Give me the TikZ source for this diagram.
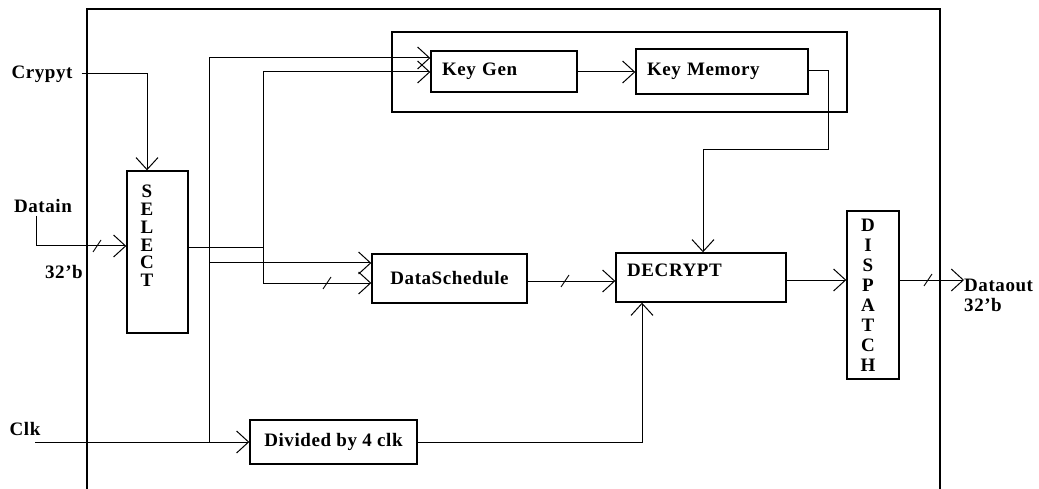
\documentclass[tikz,border=0pt]{standalone}
\usepackage{fontspec}
\setmainfont{Liberation Serif}
\usetikzlibrary{arrows.meta}
\begin{document}
\begin{tikzpicture}[x=1pt,y=-1pt,
  lbl/.style={font=\fontsize{19}{20}\selectfont\bfseries\addfontfeature{LetterSpace=3}, inner sep=0pt},
  blk/.style={draw, line width=1.4pt, inner sep=0pt, font=\fontsize{19}{20}\selectfont\bfseries\addfontfeature{LetterSpace=3}},
  conn/.style={line width=1pt, -{Straight Barb[length=12pt,width=22pt,line width=1pt]}},
  wire/.style={line width=1pt},
  busmark/.pic={\draw[line width=0.9pt] (-4,6) -- (4,-6);}
]
\useasboundingbox (0,0) rectangle (1039,489);
% outer frame
\draw[line width=1.4pt] (87,489) -- (87,9) -- (940,9) -- (940,489);
% blocks
\node[blk, minimum width=61pt, minimum height=162pt] (select) at (157.5,252) {};
\node[lbl, align=center, font=\fontsize{19}{17.8}\selectfont\bfseries] (selectt) at (147,236) {S\\E\\L\\E\\C\\T};
\node[blk, minimum width=455pt, minimum height=80pt] (keygroup) at (619.5,72) {};
\node[blk, minimum width=146pt, minimum height=41pt, text width=124pt, inner xsep=11pt, align=left] (keygen) at (504,71.5) {Key Gen};
\node[blk, minimum width=172pt, minimum height=45pt, text width=150pt, inner xsep=11pt, align=left] (keymem) at (722,71.5) {Key Memory};
\node[blk, minimum width=155pt, minimum height=49pt] (datasch) at (449.5,278.5) {DataSchedule};
\node[blk, minimum width=170pt, minimum height=49pt] (decrypt) at (701,277.5) {};
\node[lbl, anchor=west] (decryptt) at (627,270) {DECRYPT};
\node[blk, minimum width=167pt, minimum height=44pt] (divby4) at (333.5,442) {Divided by 4 clk};
\node[blk, minimum width=52pt, minimum height=168pt] (dispatch) at (873,295) {};
\node[lbl, align=center, font=\fontsize{19}{20}\selectfont\bfseries] (dispatcht) at (868,295) {D\\I\\S\\P\\A\\T\\C\\H};
% labels
\node[lbl] (crypyt) at (42,74) {Crypyt};
\node[lbl] (datain) at (43,206) {Datain};
\node[lbl] (bin) at (64,272) {32'b};
\node[lbl] (clk) at (25,429) {Clk};
\node[lbl, anchor=west] (dataout) at (964,285) {Dataout};
\node[lbl, anchor=west] (bout) at (964,305) {32'b};
% connectors
\draw[conn] ([xshift=9pt]crypyt.east) -| ([xshift=-10.5pt]select.north);
\coordinate (din) at (36,216);
\draw[conn] (din) |- (select.west |- 0,246);
\pic at (97,246) {busmark};
\coordinate (clkin) at (35,442);
\draw[conn] (clkin) -- (divby4.west);
\coordinate (j1) at (209,442);
\coordinate (j2) at (209,263);
\draw[conn] (j1) |- (keygen.west |- 0,58);
\draw[conn] (j2) -- (datasch.west |- j2);
\coordinate (s1) at (263,248);
\draw[wire] (select.east |- s1) -- (s1);
\draw[conn] (s1) |- (keygen.west |- 0,72);
\draw[conn] (s1) |- (datasch.west |- 0,283);
\pic at (327,283) {busmark};
\draw[conn] (keygen.east |- 0,72) -- (keymem.west |- 0,72);
\draw[conn] (keymem.east |- 0,71) -- (828,71) -- (828,150) -- (703,150) -- (decrypt.north -| 703,0);
\draw[conn] (datasch.east |- 0,281) -- (decrypt.west |- 0,281);
\pic at (565,281) {busmark};
\draw[conn] (divby4.east) -| (decrypt.south -| 642,0);
\draw[conn] (decrypt.east |- 0,280) -- (dispatch.west |- 0,280);
\draw[conn] (dispatch.east |- 0,280) -- (dataout.west |- 0,280);
\pic at (928,280) {busmark};
\end{tikzpicture}
\end{document}
